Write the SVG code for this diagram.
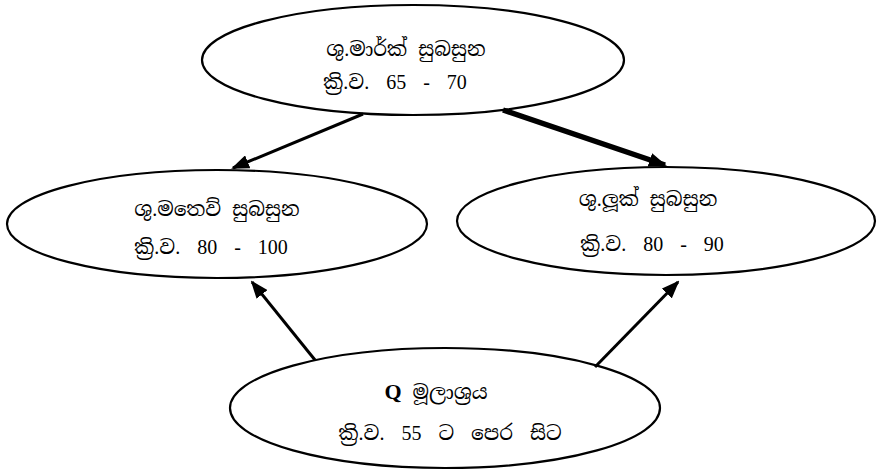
<svg xmlns="http://www.w3.org/2000/svg" width="879" height="473" viewBox="0 0 879 473">
<style>
.node ellipse{fill:#fff;stroke:#000;stroke-width:2.2}
.t{font-family:"Liberation Serif","Noto Serif Sinhala","Noto Sans Sinhala","Iskoola Pota",serif;font-size:20px;fill:#000;text-anchor:middle;word-spacing:6px}
.d{word-spacing:12px}
.q{font-family:"Liberation Serif",serif;font-weight:bold;font-size:22px}
.e{stroke:#000;fill:none;stroke-width:3}
.thick{stroke-width:5.5}
</style>
<defs>
<marker id="ah" markerUnits="userSpaceOnUse" markerWidth="18" markerHeight="14" refX="16" refY="7" orient="auto" viewBox="0 0 18 14">
<path d="M0,0 L18,7 L0,14 z" fill="#000"/>
</marker>
</defs>
<g id="n-mark" class="node">
<ellipse cx="413" cy="60" rx="211" ry="55"/>
<text class="t" x="406" y="56">ශු.මාර්ක් සුබසුන</text>
<text class="t d" x="395" y="89">ක්‍රි.ව. 65 - 70</text>
</g>
<g id="n-matthew" class="node">
<ellipse cx="217" cy="224" rx="210" ry="54"/>
<text class="t" x="217" y="216">ශු.මතෙව් සුබසුන</text>
<text class="t d" x="211" y="254">ක්‍රි.ව. 80 - 100</text>
</g>
<g id="n-luke" class="node">
<ellipse cx="666" cy="221" rx="209" ry="54"/>
<text class="t" x="648" y="206">ශු.ලූක් සුබසුන</text>
<text class="t d" x="652" y="251">ක්‍රි.ව. 80 - 90</text>
</g>
<g id="n-q" class="node">
<ellipse cx="445" cy="408" rx="215" ry="60"/>
<text class="t" x="436" y="399"><tspan class="q">Q</tspan> මූලාශ්‍රය</text>
<text class="t d" x="450" y="440">ක්‍රි.ව. 55 ට පෙර සිට</text>
</g>
<g id="connectors">
<line class="e" x1="363" y1="114" x2="233" y2="168" marker-end="url(#ah)"/>
<line class="e thick" x1="503" y1="110" x2="665" y2="165" marker-end="url(#ah)"/>
<line class="e" x1="315" y1="360" x2="252" y2="282" marker-end="url(#ah)"/>
<line class="e" x1="595" y1="367" x2="678" y2="282" marker-end="url(#ah)"/>
</g>
</svg>
